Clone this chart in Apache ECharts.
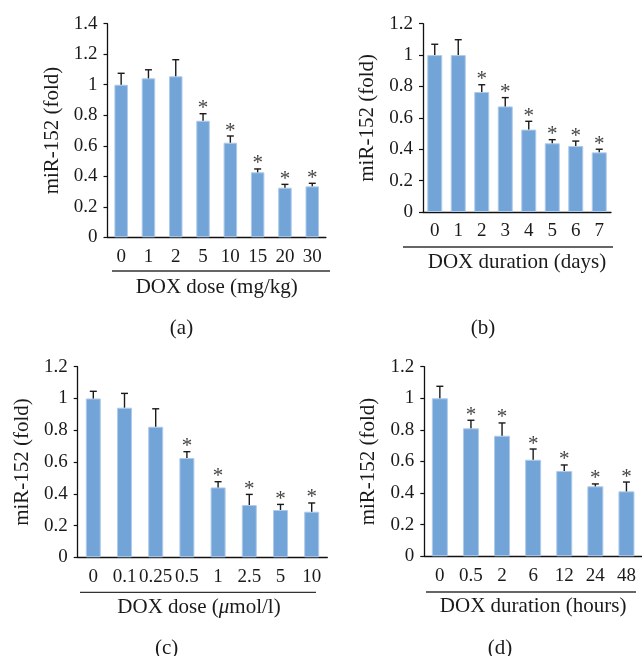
<!DOCTYPE html>
<html><head><meta charset="utf-8">
<script src="https://cdn.jsdelivr.net/npm/echarts@6/dist/echarts.min.js"></script>
<style>html,body{margin:0;padding:0;background:#fff}#c{width:642px;height:656px}</style>
</head><body><div id="c"></div>
<script>
// ---- Data ----
const catsA = ['0','1','2','5','10','15','20','30'];
const meanA = [1.0, 1.042, 1.055, 0.764, 0.62, 0.426, 0.325, 0.334];
const errA  = [0.075, 0.056, 0.109, 0.046, 0.044, 0.022, 0.022, 0.02];
const sigA  = [0, 0, 0, 1, 1, 1, 1, 1];

const catsB = ['0','1','2','3','4','5','6','7'];
const meanB = [1.0, 1.0, 0.765, 0.673, 0.525, 0.438, 0.421, 0.38];
const errB  = [0.069, 0.098, 0.046, 0.056, 0.053, 0.023, 0.031, 0.02];
const sigB  = [0, 0, 1, 1, 1, 1, 1, 1];

const catsC = ['0','0.1','0.25','0.5','1','2.5','5','10'];
const meanC = [1.0, 0.942, 0.822, 0.625, 0.44, 0.329, 0.298, 0.287];
const errC  = [0.045, 0.09, 0.113, 0.04, 0.036, 0.067, 0.035, 0.055];
const sigC  = [0, 0, 0, 1, 1, 1, 1, 1];

const catsD = ['0','0.5','2','6','12','24','48'];
const meanD = [1.0, 0.81, 0.763, 0.611, 0.54, 0.443, 0.411];
const errD  = [0.076, 0.051, 0.081, 0.068, 0.038, 0.015, 0.059];
const sigD  = [0, 1, 1, 1, 1, 1, 1];

const yMaxes = [1.4, 1.2, 1.2, 1.2];
const xTitles = ['DOX dose (mg/kg)', 'DOX duration (days)', 'DOX dose ({i|\u03bc}mol/l)', 'DOX duration (hours)'];
const panelLabels = ['(a)', '(b)', '(c)', '(d)'];
const yTitle = 'miR-152 (fold)';

// ---- Layout ----
const FONT = '"Liberation Serif", "Times New Roman", serif';
const panels = [
  {cats: catsA, mean: meanA, err: errA, sig: sigA, grid: {left: 107.5, top: 23.7, width: 218.4, height: 213.6}, barW: 13.5,
   sep: {x1: 112, x2: 330, y: 271}, lab: {x: 181.5, y: 328}, namePad: [0,0,0,0]},
  {cats: catsB, mean: meanB, err: errB, sig: sigB, grid: {left: 423, top: 23.7, width: 188, height: 188.3}, barW: 15,
   sep: {x1: 403, x2: 613, y: 247}, lab: {x: 483, y: 328}, namePad: [0,0,0,0]},
  {cats: catsC, mean: meanC, err: errC, sig: sigC, grid: {left: 77.7, top: 366.7, width: 249.6, height: 190.6}, barW: 15,
   sep: {x1: 80, x2: 316, y: 592.3}, lab: {x: 166.7, y: 648}, namePad: [0,7,0,0]},
  {cats: catsD, mean: meanD, err: errD, sig: sigD, grid: {left: 424.3, top: 366.7, width: 226.1, height: 189.6}, barW: 16,
   sep: {x1: 426, x2: 636, y: 592}, lab: {x: 500, y: 648}, namePad: [0,0,0,0]}
];

function errRender(params, api) {
  const x = api.value(0), top = api.value(1), mean = api.value(2), sig = api.value(3);
  const p1 = api.coord([x, mean]);
  const p2 = api.coord([x, top]);
  const cap = 3.5;
  const ls = {stroke: '#1a1a1a', lineWidth: 1.4};
  const children = [
    {type: 'line', shape: {x1: p1[0], y1: p1[1], x2: p2[0], y2: p2[1]}, style: ls},
    {type: 'line', shape: {x1: p2[0] - cap, y1: p2[1], x2: p2[0] + cap, y2: p2[1]}, style: ls}
  ];
  if (sig) {
    children.push({type: 'text', style: {text: '*', x: p2[0], y: p2[1] - 5, align: 'center', verticalAlign: 'middle',
      fill: '#444', font: '21px ' + FONT}});
  }
  return {type: 'group', children};
}

const grids = [], xAxes = [], yAxes = [], series = [], graphics = [];
panels.forEach((p, i) => {
  grids.push(Object.assign({containLabel: false}, p.grid));
  xAxes.push({
    type: 'category', gridIndex: i, data: p.cats,
    axisLine: {lineStyle: {color: '#111', width: 1.3}},
    axisTick: {show: false},
    axisLabel: {interval: 0, fontFamily: FONT, fontSize: 19, color: '#1a1a1a', margin: 10},
    name: xTitles[i], nameLocation: 'middle', nameGap: 40,
    nameTextStyle: {fontFamily: FONT, fontSize: 21, color: '#1a1a1a', padding: p.namePad,
      rich: {i: {fontFamily: FONT, fontSize: 21, fontStyle: 'italic', color: '#1a1a1a'}}}
  });
  yAxes.push({
    type: 'value', gridIndex: i, min: 0, max: yMaxes[i], interval: 0.2,
    splitLine: {show: false},
    axisLine: {show: true, lineStyle: {color: '#111', width: 1.3}},
    axisTick: {show: true, length: 4, lineStyle: {color: '#111', width: 1.2}},
    axisLabel: {fontFamily: FONT, fontSize: 19, color: '#1a1a1a', margin: 10},
    name: yTitle, nameLocation: 'middle', nameGap: 45, nameRotate: 90,
    nameTextStyle: {fontFamily: FONT, fontSize: 21, color: '#1a1a1a'}
  });
  series.push({
    type: 'bar', xAxisIndex: i, yAxisIndex: i, data: p.mean, barWidth: p.barW,
    itemStyle: {color: '#72a4d7', borderColor: '#aecbeb', borderWidth: 1},
    silent: true, animation: false
  });
  series.push({
    type: 'custom', xAxisIndex: i, yAxisIndex: i, renderItem: errRender,
    data: p.mean.map((m, k) => [k, m + p.err[k], m, p.sig[k]]),
    silent: true, animation: false, z: 5
  });
  graphics.push({type: 'line', shape: {x1: p.sep.x1, y1: p.sep.y, x2: p.sep.x2, y2: p.sep.y},
    style: {stroke: '#333', lineWidth: 1.3}});
  graphics.push({type: 'text', x: p.lab.x, y: p.lab.y,
    style: {text: panelLabels[i], align: 'center', verticalAlign: 'middle', fill: '#1a1a1a', font: '21px ' + FONT}});
});

const chart = echarts.init(document.getElementById('c'));
chart.setOption({
  animation: false,
  backgroundColor: '#fff',
  grid: grids, xAxis: xAxes, yAxis: yAxes, series: series, graphic: graphics
});
</script>
</body></html>
